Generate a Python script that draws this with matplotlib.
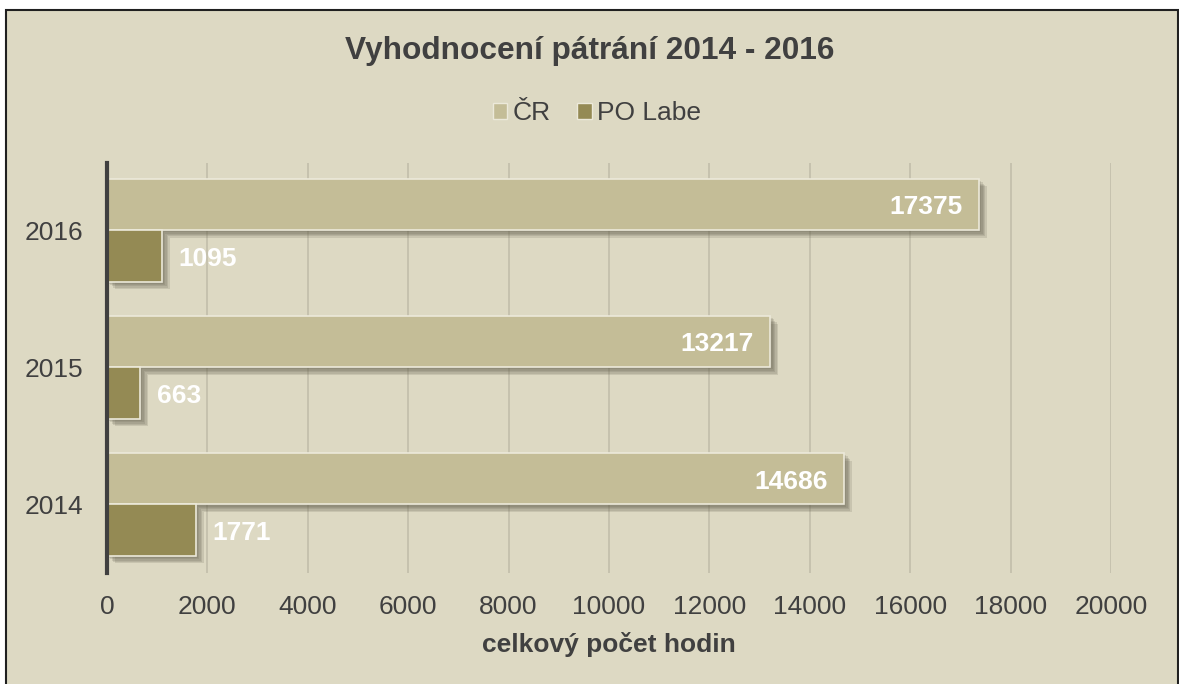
import matplotlib
matplotlib.use("Agg")
import matplotlib.pyplot as plt
import matplotlib.patheffects as pe
from matplotlib.patches import Rectangle, Patch
import numpy as np

plt.rcParams['font.family'] = ['Liberation Sans', 'DejaVu Sans']

years = ["2014", "2015", "2016"]
cr_values = [14686, 13217, 17375]
po_values = [1771, 663, 1095]
series_names = ["ČR", "PO Labe"]
title = "Vyhodnocení pátrání 2014 - 2016"
xlabel = "celkový počet hodin"
xticks = list(range(0, 20001, 2000))

bg = "#DDD9C3"
c_cr = "#C4BD97"
c_po = "#948A54"
txt = "#404040"

fig = plt.figure(figsize=(11.79, 6.84), dpi=100)
fig.patch.set_facecolor("white")
# chart area frame
fig.patches.append(Rectangle((6/1179, -0.01), (1178-6)/1179, (684-10)/684 + 0.01,
                             transform=fig.transFigure, facecolor=bg,
                             edgecolor="#202020", linewidth=1.5, zorder=-5))

ax = fig.add_axes([107/1179, 1-573/684, (1111-107)/1179, (573-163)/684])
ax.set_facecolor(bg)
ax.patch.set_alpha(0)

y = np.arange(len(years))
h = 0.375
off = 0.1875
shadow = [pe.SimplePatchShadow(offset=(d, -d), shadow_rgbFace="#5E5A48", alpha=0.16)
          for d in (1.5, 2.5, 3.5, 4.5, 5.5)] + [pe.Normal()]
b1 = ax.barh(y + off, cr_values, height=h, color=c_cr, edgecolor="#ECE9DA", linewidth=1.2,
             zorder=3, path_effects=shadow)
b2 = ax.barh(y - off, po_values, height=h, color=c_po, edgecolor="#ECE9DA", linewidth=1.2,
             zorder=3, path_effects=shadow)

for yi, v in zip(y, cr_values):
    ax.annotate(str(v), (v, yi + off), xytext=(-12, -2), textcoords="offset points",
                ha="right", va="center", color="white", fontsize=19, fontweight="bold", zorder=5)
for yi, v in zip(y, po_values):
    ax.annotate(str(v), (v, yi - off), xytext=(12, -2), textcoords="offset points",
                ha="left", va="center", color="white", fontsize=19, fontweight="bold", zorder=5)

ax.set_xlim(0, 20000)
ax.set_ylim(-0.5, 2.49)
ax.set_xticks(xticks)
ax.set_xticklabels([str(t) for t in xticks], fontsize=19, color=txt)
ax.set_yticks(y)
ax.set_yticklabels(years, fontsize=19, color=txt)
ax.tick_params(axis="x", length=0, pad=16)
ax.tick_params(axis="y", length=0, pad=17)
ax.grid(axis="x", color="#C2BEAA", linewidth=1.2, zorder=1)
ax.set_axisbelow(True)
for s in ["top", "right", "bottom"]:
    ax.spines[s].set_visible(False)
ax.spines["left"].set_color("#404040")
ax.spines["left"].set_linewidth(3)
ax.spines["left"].set_zorder(4)

ax.set_xlabel(xlabel, fontsize=19, fontweight="bold", color=txt, labelpad=9)

fig.text(0.5, 1-51/684, title, ha="center", va="center", fontsize=22.8,
         fontweight="bold", color=txt)

handles = [Patch(facecolor=c_cr, edgecolor="#ECE9DA", linewidth=1.0),
           Patch(facecolor=c_po, edgecolor="#ECE9DA", linewidth=1.0)]
leg = fig.legend(handles, series_names, loc="center", bbox_to_anchor=(597/1179, 1-113/684),
                 ncol=2, frameon=False, fontsize=19, handlelength=0.55, handleheight=0.55,
                 handletextpad=0.2, columnspacing=1.0, labelcolor=txt)

fig.savefig("out.png", dpi=100, facecolor=fig.get_facecolor())
